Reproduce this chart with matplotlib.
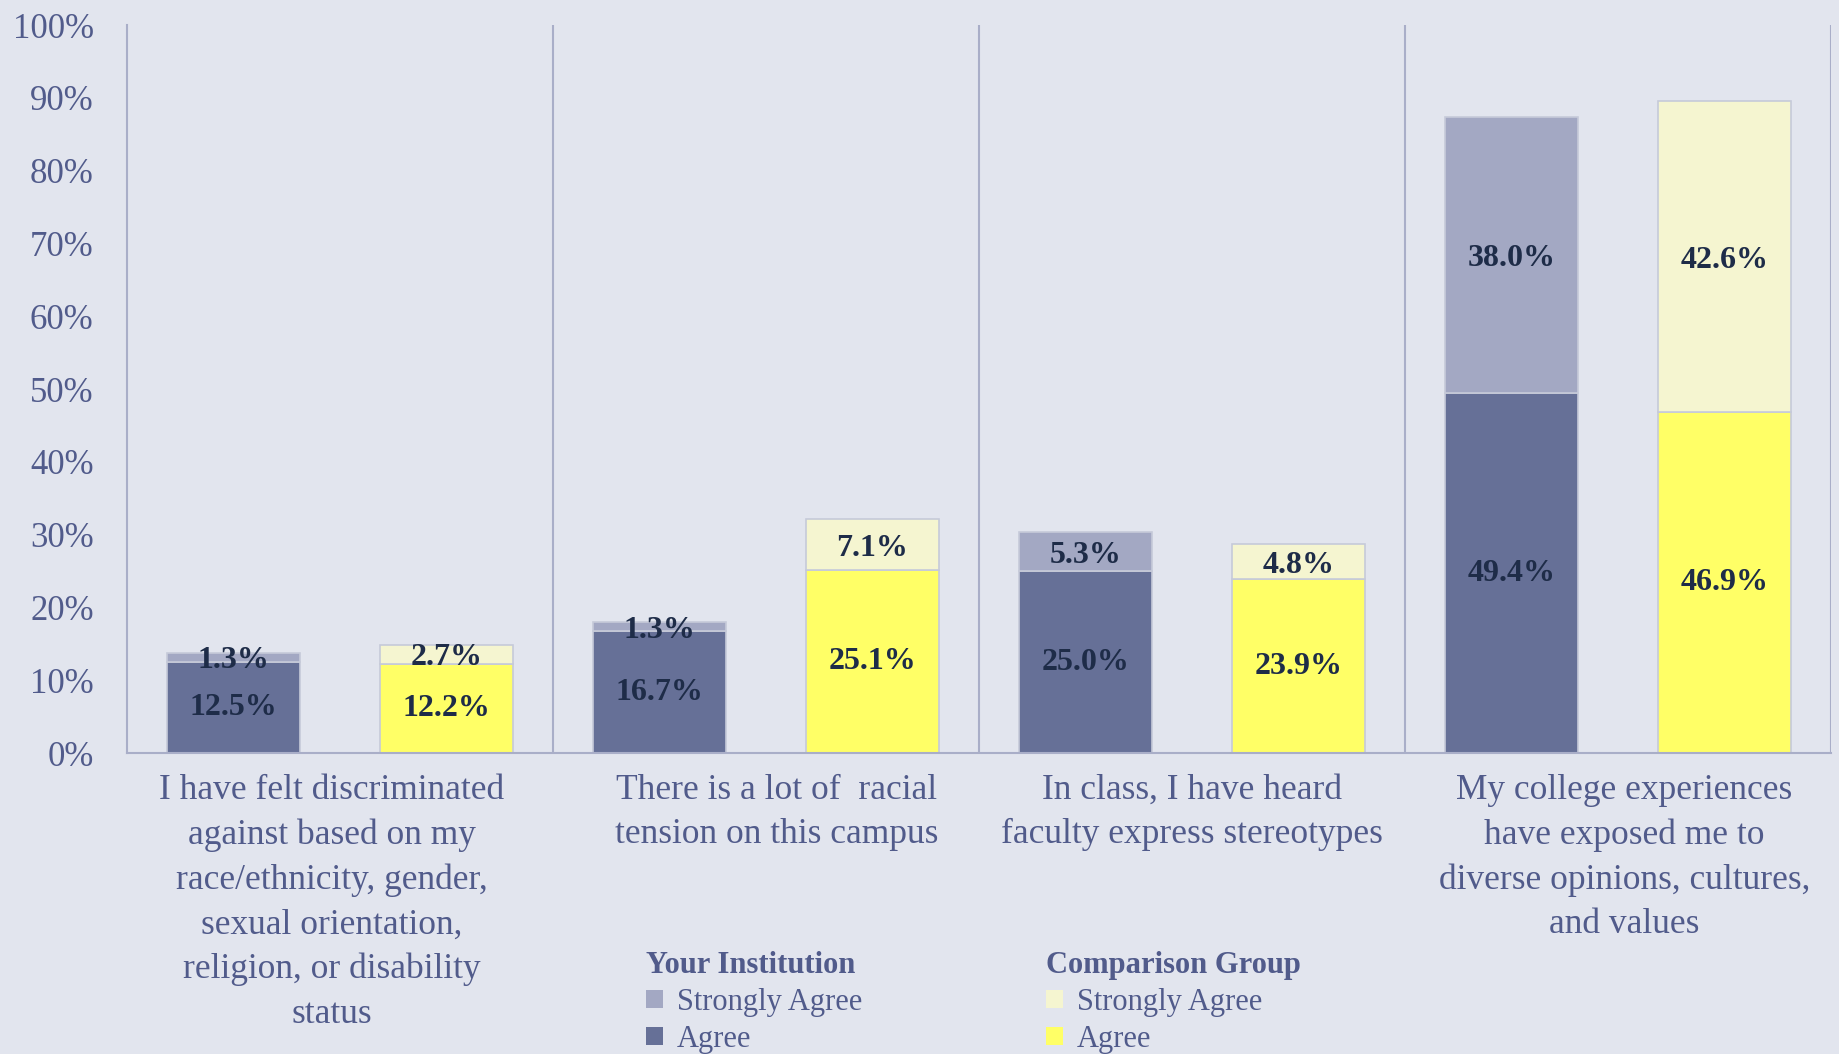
import numpy as np
import matplotlib.pyplot as plt
from matplotlib.ticker import PercentFormatter

# data
categories = [
    "I have felt discriminated\nagainst based on my\nrace/ethnicity, gender,\nsexual orientation,\nreligion, or disability\nstatus",
    "There is a lot of  racial\ntension on this campus",
    "In class, I have heard\nfaculty express stereotypes",
    "My college experiences\nhave exposed me to\ndiverse opinions, cultures,\nand values",
]
inst_agree = [12.5, 16.7, 25.0, 49.4]
inst_strong = [1.3, 1.3, 5.3, 38.0]
comp_agree = [12.2, 25.1, 23.9, 46.9]
comp_strong = [2.7, 7.1, 4.8, 42.6]

bg = "#e2e5ee"
line_c = "#a9aec8"
tick_c = "#515b8b"
lab_c = "#1e2c48"
c_inst_agree = "#667097"
c_inst_strong = "#a3a8c3"
c_comp_agree = "#ffff66"
c_comp_strong = "#f5f5d0"
edge_c = "#c6cad9"

plt.rcParams['font.family'] = ['Liberation Serif', 'DejaVu Serif']

fig = plt.figure(figsize=(18.39, 10.54), dpi=100, facecolor=bg)
ax = fig.add_axes([127 / 1839, 1 - 753 / 1054, (1831 - 127) / 1839, (753 - 25) / 1054])
ax.set_facecolor(bg)

x = np.arange(len(categories))
w = 0.31
off = 0.25


def stack(xpos, low, high, c_low, c_high):
    low = np.array(low)
    high = np.array(high)
    b1 = ax.bar(xpos, low, w, color=c_low, edgecolor=edge_c, linewidth=1.2, zorder=2)
    b2 = ax.bar(xpos, high, w, bottom=low, color=c_high, edgecolor=edge_c, linewidth=1.2, zorder=2)
    for xi, lo, hi in zip(xpos, low, high):
        ax.text(xi, lo / 2, f"{lo:.1f}%", ha="center", va="center", fontsize=23,
                fontweight="bold", color=lab_c, zorder=3)
        ax.text(xi, lo + hi / 2 - 0.5, f"{hi:.1f}%", ha="center", va="center", fontsize=23,
                fontweight="bold", color=lab_c, zorder=3)
    return b1, b2


ia, istr = stack(x - off, inst_agree, inst_strong, c_inst_agree, c_inst_strong)
ca, cstr = stack(x + off, comp_agree, comp_strong, c_comp_agree, c_comp_strong)

ax.set_xlim(-0.5, len(categories) - 0.5)
ax.set_ylim(0, 100)
ax.set_yticks(np.arange(0, 101, 10))
ax.yaxis.set_major_formatter(PercentFormatter(decimals=0))
ax.tick_params(axis="y", length=0, pad=24, labelsize=25, labelcolor=tick_c)
ax.set_xticks([])

for s in ["top", "right"]:
    ax.spines[s].set_visible(False)
for s in ["left", "bottom"]:
    ax.spines[s].set_color(line_c)
    ax.spines[s].set_linewidth(1.5)

for b in np.arange(0.5, len(categories), 1):
    ax.axvline(b, color=line_c, linewidth=1.5, zorder=1)

# small horizontal shifts of the category text boxes, as in the original
lab_shift = [-0.02, 0.025, 0.0, 0.015]
for xi, cat, dx in zip(x, categories, lab_shift):
    ax.text(xi + dx, -2.9, cat, ha="center", va="top", fontsize=25.5, color=tick_c,
            linespacing=1.45, clip_on=False)

leg_kw = dict(loc="upper left", frameon=False, fontsize=22,
              title_fontproperties={"size": 22, "weight": "bold"},
              handlelength=0.55, handleheight=0.55, handletextpad=0.45,
              labelspacing=0.25, alignment="left", labelcolor=tick_c, borderpad=0)
leg1 = fig.legend([istr, ia], ["Strongly Agree", "Agree"], title="Your Institution",
                  bbox_to_anchor=(631 / 1839, 1 - 936 / 1054), **leg_kw)
leg2 = fig.legend([cstr, ca], ["Strongly Agree", "Agree"], title="Comparison Group",
                  bbox_to_anchor=(1031 / 1839, 1 - 936 / 1054), **leg_kw)
for leg in (leg1, leg2):
    leg.get_title().set_color(tick_c)
    for h in leg.legend_handles:
        h.set_edgecolor("none")

fig.savefig("out.png", dpi=100, facecolor=bg)
